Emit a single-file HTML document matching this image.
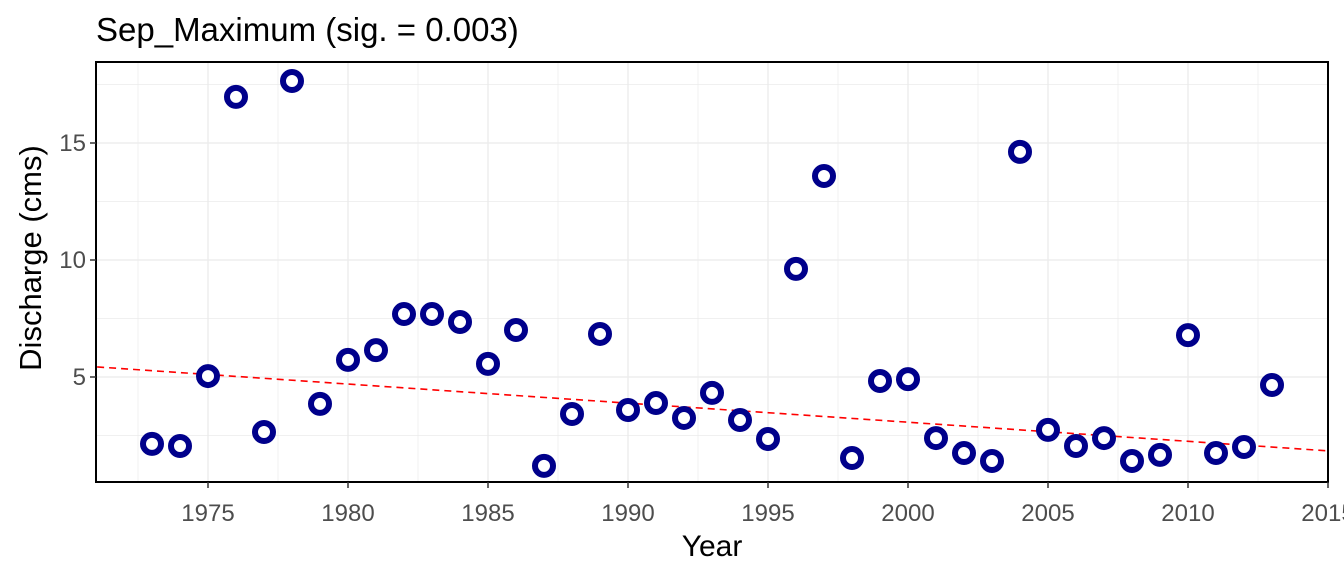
<!DOCTYPE html>
<html><head><meta charset="utf-8"><style>
body{margin:0;background:#fff;}
svg{display:block;font-family:"Liberation Sans",Arial,sans-serif;}
</style></head><body>
<svg id="chart" width="1344" height="576"></svg>
<script>
const years=[1973,1974,1975,1976,1977,1978,1979,1980,1981,1982,1983,1984,1985,1986,1987,1988,1989,1990,1991,1992,1993,1994,1995,1996,1997,1998,1999,2000,2001,2002,2003,2004,2005,2006,2007,2008,2009,2010,2011,2012,2013];
const discharge=[2.14,2.05,5.04,16.97,2.65,17.65,3.85,5.73,6.15,7.69,7.69,7.35,5.56,7.01,1.20,3.42,6.84,3.59,3.89,3.25,4.32,3.16,2.35,9.62,13.59,1.54,4.83,4.91,2.39,1.75,1.41,14.62,2.74,2.05,2.39,1.41,1.67,6.79,1.75,2.01,4.66];
const xTicks=[1975,1980,1985,1990,1995,2000,2005,2010,2015];
const yTicks=[5,10,15];
const trendStart=[1971.04,5.43];
const trendEnd=[2015.04,1.84];

const L=96,R=1328,T=62,B=482;
const x0=1971.0,x1=2015.0,y0=(494-482)/23.4,y1=(494-62)/23.4;
const sx=v=>L+(v-x0)/(x1-x0)*(R-L);
const sy=v=>B-(v-y0)/(y1-y0)*(B-T);
const svg=document.getElementById('chart');
const NS='http://www.w3.org/2000/svg';
function mk(tag,attrs,parent){const e=document.createElementNS(NS,tag);for(const k in attrs)e.setAttribute(k,attrs[k]);(parent||svg).appendChild(e);return e;}

const grid=mk('g',{});


for(let v=2.5;v<y1;v+=2.5){mk('line',{x1:L,x2:R,y1:sy(v),y2:sy(v),stroke:'#ebebeb','stroke-width':v%5===0?1.3:0.7},grid);}
for(let v=1972.5;v<x1;v+=2.5){mk('line',{x1:sx(v),x2:sx(v),y1:T,y2:B,stroke:'#ebebeb','stroke-width':v%5===0?1.3:0.7},grid);}

const trend=mk('line',{x1:sx(trendStart[0]),y1:sy(trendStart[1]),x2:sx(trendEnd[0]),y2:sy(trendEnd[1]),stroke:'#ff0000','stroke-width':1.6,'stroke-dasharray':'7,5'});



years.forEach((yr,i)=>{
  const c=mk('circle',{cx:sx(yr),cy:sy(discharge[i]),r:9,fill:'#fff',stroke:'#00008b','stroke-width':6});
  
  
});

const frame=mk('rect',{x:L,y:T,width:R-L,height:B-T,fill:'none',stroke:'#000','stroke-width':2});



xTicks.forEach(t=>{
  mk('line',{x1:sx(t),x2:sx(t),y1:B,y2:B+6,stroke:'#333','stroke-width':1.5});
  const tx=mk('text',{x:sx(t),y:521,'text-anchor':'middle','font-size':24,fill:'#4d4d4d'});
  tx.textContent=t;
  
  
});
yTicks.forEach(t=>{
  mk('line',{x1:L-6,x2:L,y1:sy(t),y2:sy(t),stroke:'#333','stroke-width':1.5});
  const tx=mk('text',{x:L-10,y:sy(t)+8,'text-anchor':'end','font-size':24,fill:'#4d4d4d'});
  tx.textContent=t;
  
  
});

const xt=mk('text',{x:712,y:556,'text-anchor':'middle','font-size':30,fill:'#000'});
xt.textContent='Year';


const yt=mk('text',{x:0,y:0,'text-anchor':'middle','font-size':31,fill:'#000',transform:'translate(41,258) rotate(-90)'});
yt.textContent='Discharge (cms)';


const title=mk('text',{x:96,y:41,'font-size':33,fill:'#000'});
title.textContent='Sep_Maximum (sig. = 0.003)';


</script>
</body></html>
